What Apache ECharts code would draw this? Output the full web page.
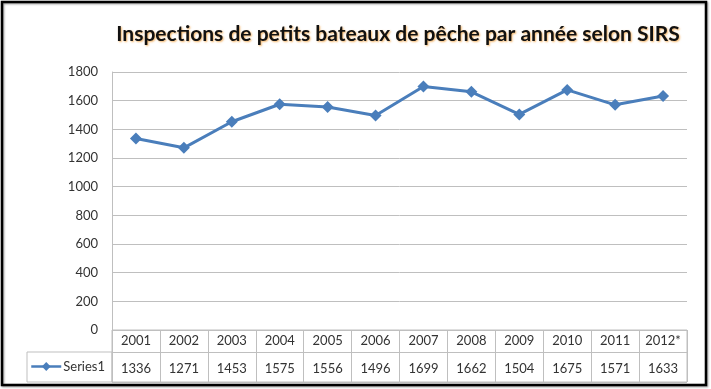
<!DOCTYPE html>
<html><head><meta charset="utf-8">
<script src="https://cdn.jsdelivr.net/npm/echarts@6/dist/echarts.min.js"></script>
<style>html,body{margin:0;padding:0;background:#fff}#c{width:711px;height:389px}</style>
</head><body><div id="c"></div>
<script>
const title = "Inspections de petits bateaux de pêche par année selon SIRS";
const categories = ["2001","2002","2003","2004","2005","2006","2007","2008","2009","2010","2011","2012*"];
const seriesName = "Series1";
const values = [1336,1271,1453,1575,1556,1496,1699,1662,1504,1675,1571,1633];
const yTicks = [0,200,400,600,800,1000,1200,1400,1600,1800];

const blue = "#4a7ebb";
const gridGray = "#bfbfbf";
const txt = "#333333";
const font = "Lato";

const chart = echarts.init(document.getElementById('c'), null, {renderer:'canvas'});
chart.setOption({
  animation:false,
  textStyle:{fontFamily:font},
  title:{
    text:title, left:398, top:24, textAlign:'center', padding:0,
    textStyle:{fontFamily:font, fontWeight:'bold', fontSize:21, color:'#111',
      textShadowColor:'rgba(240,150,40,0.7)', textShadowBlur:2, textShadowOffsetX:1, textShadowOffsetY:1}
  },
  legend:{
    data:[seriesName], left:30, top:360, padding:0, itemWidth:30, itemHeight:11, itemGap:0,
    lineStyle:{width:2.5},
    textStyle:{fontFamily:font, fontSize:13, color:txt, padding:[0,0,0,-3]}
  },
  grid:[
    {left:112, right:24, top:72, bottom:59, show:false},
    {left:112, right:24, top:330, height:52, show:true, borderColor:gridGray, borderWidth:1}
  ],
  xAxis:[
    {gridIndex:0, type:'category', data:categories, boundaryGap:true,
     axisLine:{show:false}, axisTick:{show:false}, axisLabel:{show:false}, splitLine:{show:false}},
    {gridIndex:1, type:'category', data:categories, position:'top', boundaryGap:true,
     axisLine:{show:false}, axisTick:{show:false},
     axisLabel:{inside:true, margin:4, interval:0, fontFamily:font, fontSize:13, color:txt},
     splitLine:{show:true, interval:0, lineStyle:{color:gridGray, width:1}}},
    {gridIndex:1, type:'category', data:values.map(String), position:'bottom', boundaryGap:true,
     axisLine:{show:false}, axisTick:{show:false},
     axisLabel:{inside:true, margin:7, interval:0, fontFamily:font, fontSize:13, color:txt},
     splitLine:{show:false}}
  ],
  yAxis:[
    {gridIndex:0, type:'value', min:yTicks[0], max:yTicks[yTicks.length-1], interval:yTicks[1]-yTicks[0],
     axisLine:{show:true, lineStyle:{color:gridGray}}, axisTick:{show:false},
     axisLabel:{margin:14, fontFamily:font, fontSize:13, color:txt, formatter:v => String(v)},
     splitLine:{show:true, lineStyle:{color:gridGray, width:1}}},
    {gridIndex:1, type:'value', min:0, max:52, interval:30,
     axisLine:{show:false}, axisTick:{show:false}, axisLabel:{show:false},
     splitLine:{show:true, lineStyle:{color:gridGray, width:1}}}
  ],
  series:[{
    name:seriesName, type:'line', xAxisIndex:0, yAxisIndex:0, data:values,
    symbol:'diamond', symbolSize:12, showSymbol:true,
    lineStyle:{color:blue, width:3}, itemStyle:{color:blue}
  }],
  graphic:[
    {type:'rect', shape:{x:27, y:352, width:85, height:30}, style:{fill:'none', stroke:gridGray, lineWidth:1}, z:1},
    {type:'rect', shape:{x:2, y:2, width:704, height:383}, style:{fill:'none', stroke:'#000', lineWidth:2.5,
      shadowColor:'rgba(0,0,0,0.4)', shadowBlur:2, shadowOffsetX:1, shadowOffsetY:1}, z:10}
  ]
});
</script></body></html>
